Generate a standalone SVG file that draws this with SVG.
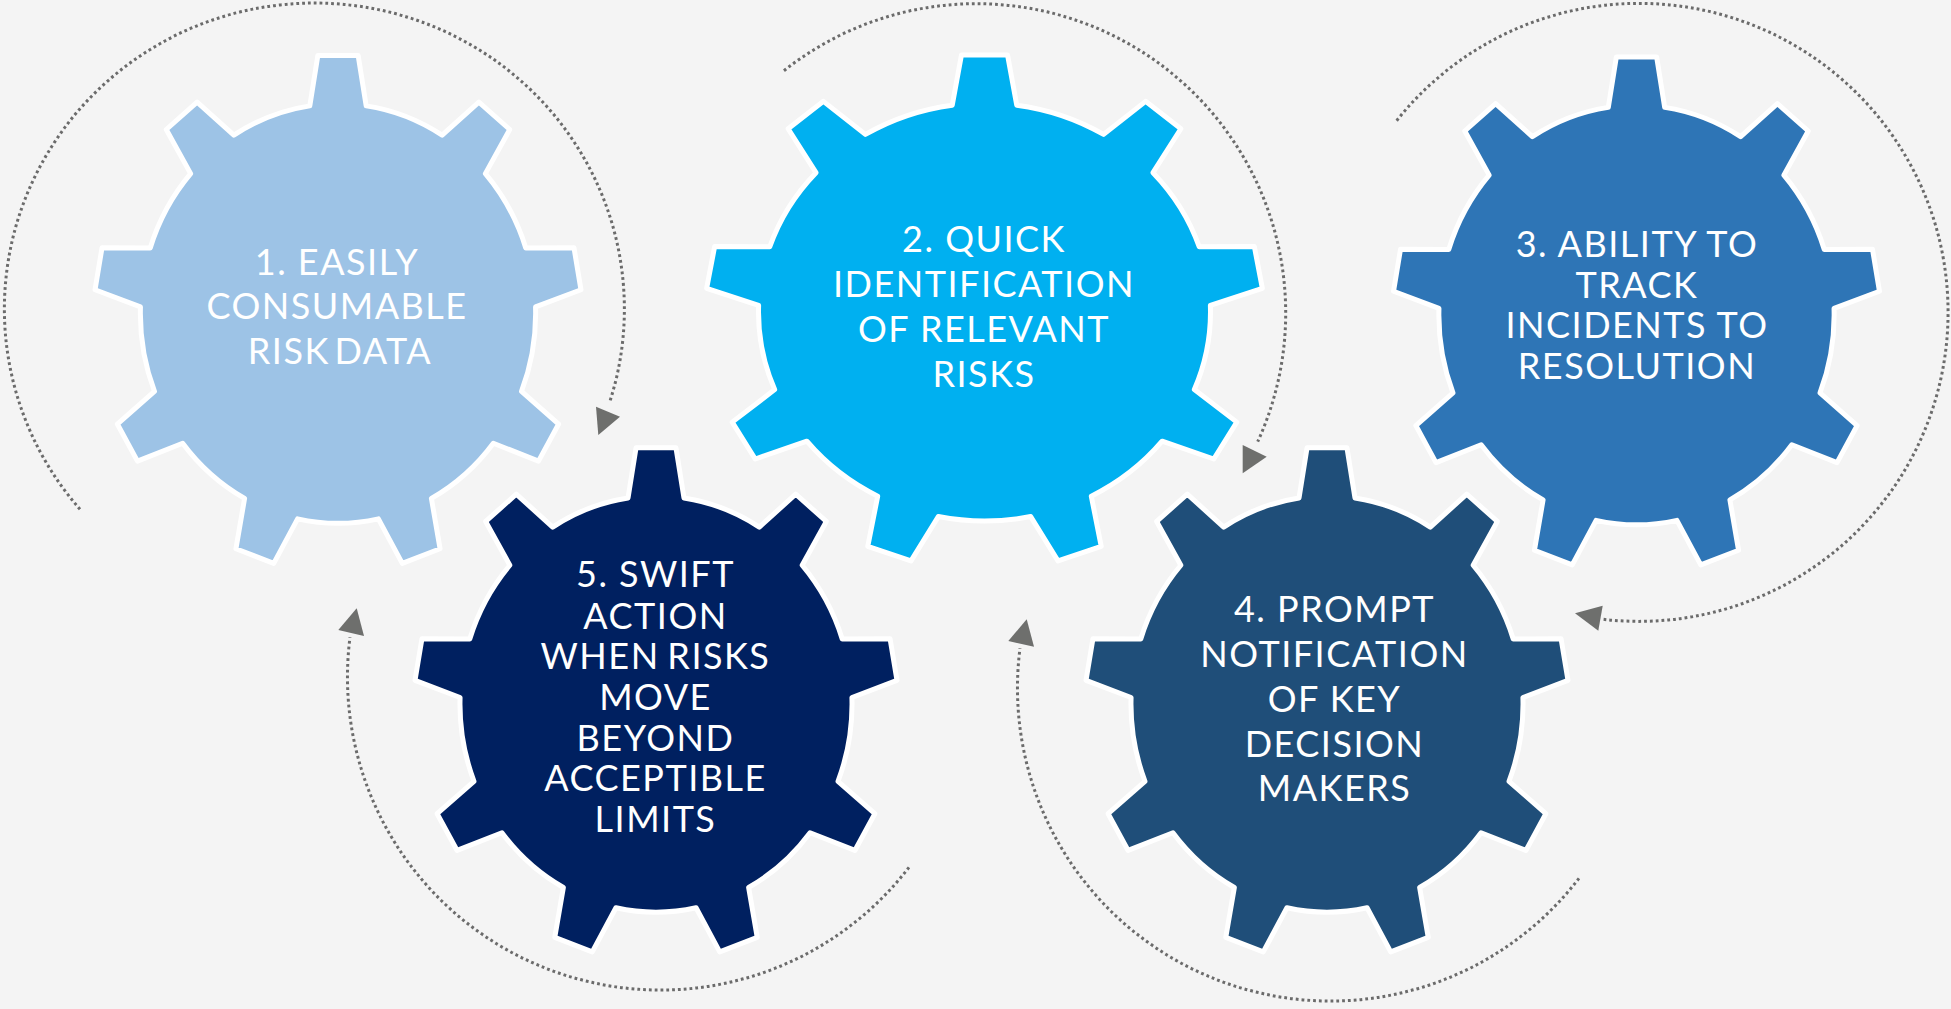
<svg xmlns="http://www.w3.org/2000/svg" width="1951" height="1009" viewBox="0 0 1951 1009">
<style>
.gear{stroke:#FFFFFF;stroke-width:5;stroke-linejoin:round;vector-effect:non-scaling-stroke}
.lbl{font-family:Lato,"Noto Sans","Liberation Sans",sans-serif;font-size:36px;fill:#FFFFFF;text-anchor:middle;letter-spacing:1.5px}
.dot{fill:none;stroke:#6B6B6B;stroke-width:3;stroke-dasharray:2.8 3}
.head{fill:#6E6F6D}
</style>
<rect x="0" y="0" width="1951" height="1009" fill="#F4F4F4"/>
<g id="connectors">
<path class="dot" d="M 80 509.3 A 310 306 0 1 1 609.3 403.3"/>
<polygon class="head" points="596,406.7 620,416.7 598.3,435"/>
<path class="dot" d="M 784 70.7 A 309.4 309.4 0 0 1 1257.7 441.7"/>
<polygon class="head" points="1242.7,445 1266.7,456.7 1242.7,473.3"/>
<path class="dot" d="M 1396.7 120.7 A 309 309 0 1 1 1603.3 619.3"/>
<polygon class="head" points="1575,613.3 1602.7,605.7 1598.3,630.7"/>
<path class="dot" d="M 1579 878.3 A 313 313 0 0 1 1020 648.3"/>
<polygon class="head" points="1026.7,619.3 1008.3,641 1034,646.7"/>
<path class="dot" d="M 909 867.3 A 313 313 0 0 1 350 637.3"/>
<polygon class="head" points="356.7,608.3 338.3,630 364,636"/>
</g>
<g id="gear1">
<path class="gear" fill="#9DC3E6" transform="translate(338 313.5) scale(244 259)" d="M -0.1155 -0.8017 L -0.0825 -0.9966 L 0.0825 -0.9966 L 0.1155 -0.8017 A 0.81 0.81 0 0 1 0.4269 -0.6884 L 0.5774 -0.8165 L 0.7038 -0.7104 L 0.6039 -0.5399 A 0.81 0.81 0 0 1 0.7695 -0.2530 L 0.9671 -0.2543 L 0.9958 -0.0918 L 0.8096 -0.0254 A 0.81 0.81 0 0 1 0.7521 0.3008 L 0.9043 0.4269 L 0.8218 0.5698 L 0.6366 0.5009 A 0.81 0.81 0 0 1 0.3828 0.7139 L 0.4183 0.9083 L 0.2634 0.9647 L 0.1656 0.7929 A 0.81 0.81 0 0 1 -0.1656 0.7929 L -0.2634 0.9647 L -0.4183 0.9083 L -0.3828 0.7139 A 0.81 0.81 0 0 1 -0.6366 0.5009 L -0.8218 0.5698 L -0.9043 0.4269 L -0.7521 0.3008 A 0.81 0.81 0 0 1 -0.8096 -0.0254 L -0.9958 -0.0918 L -0.9671 -0.2543 L -0.7695 -0.2530 A 0.81 0.81 0 0 1 -0.6039 -0.5399 L -0.7038 -0.7104 L -0.5774 -0.8165 L -0.4269 -0.6884 A 0.81 0.81 0 0 1 -0.1155 -0.8017 Z"/>
<text class="lbl"><tspan x="337" y="275">1. EASILY</tspan><tspan x="337" y="319">CONSUMABLE</tspan><tspan x="340" y="364" word-spacing="-6">RISK DATA</tspan></text>
</g>
<g id="gear2">
<path class="gear" fill="#00B0F0" transform="translate(984.5 312) scale(279 258)" d="M -0.1155 -0.8017 L -0.0825 -0.9966 L 0.0825 -0.9966 L 0.1155 -0.8017 A 0.81 0.81 0 0 1 0.4269 -0.6884 L 0.5774 -0.8165 L 0.7038 -0.7104 L 0.6039 -0.5399 A 0.81 0.81 0 0 1 0.7695 -0.2530 L 0.9671 -0.2543 L 0.9958 -0.0918 L 0.8096 -0.0254 A 0.81 0.81 0 0 1 0.7521 0.3008 L 0.9043 0.4269 L 0.8218 0.5698 L 0.6366 0.5009 A 0.81 0.81 0 0 1 0.3828 0.7139 L 0.4183 0.9083 L 0.2634 0.9647 L 0.1656 0.7929 A 0.81 0.81 0 0 1 -0.1656 0.7929 L -0.2634 0.9647 L -0.4183 0.9083 L -0.3828 0.7139 A 0.81 0.81 0 0 1 -0.6366 0.5009 L -0.8218 0.5698 L -0.9043 0.4269 L -0.7521 0.3008 A 0.81 0.81 0 0 1 -0.8096 -0.0254 L -0.9958 -0.0918 L -0.9671 -0.2543 L -0.7695 -0.2530 A 0.81 0.81 0 0 1 -0.6039 -0.5399 L -0.7038 -0.7104 L -0.5774 -0.8165 L -0.4269 -0.6884 A 0.81 0.81 0 0 1 -0.1155 -0.8017 Z"/>
<text class="lbl"><tspan x="984" y="252">2. QUICK</tspan><tspan x="984" y="297">IDENTIFICATION</tspan><tspan x="984" y="342">OF RELEVANT</tspan><tspan x="984" y="386.5">RISKS</tspan></text>
</g>
<g id="gear3">
<path class="gear" fill="#2E75B6" transform="translate(1636.5 315) scale(244 259)" d="M -0.1155 -0.8017 L -0.0825 -0.9966 L 0.0825 -0.9966 L 0.1155 -0.8017 A 0.81 0.81 0 0 1 0.4269 -0.6884 L 0.5774 -0.8165 L 0.7038 -0.7104 L 0.6039 -0.5399 A 0.81 0.81 0 0 1 0.7695 -0.2530 L 0.9671 -0.2543 L 0.9958 -0.0918 L 0.8096 -0.0254 A 0.81 0.81 0 0 1 0.7521 0.3008 L 0.9043 0.4269 L 0.8218 0.5698 L 0.6366 0.5009 A 0.81 0.81 0 0 1 0.3828 0.7139 L 0.4183 0.9083 L 0.2634 0.9647 L 0.1656 0.7929 A 0.81 0.81 0 0 1 -0.1656 0.7929 L -0.2634 0.9647 L -0.4183 0.9083 L -0.3828 0.7139 A 0.81 0.81 0 0 1 -0.6366 0.5009 L -0.8218 0.5698 L -0.9043 0.4269 L -0.7521 0.3008 A 0.81 0.81 0 0 1 -0.8096 -0.0254 L -0.9958 -0.0918 L -0.9671 -0.2543 L -0.7695 -0.2530 A 0.81 0.81 0 0 1 -0.6039 -0.5399 L -0.7038 -0.7104 L -0.5774 -0.8165 L -0.4269 -0.6884 A 0.81 0.81 0 0 1 -0.1155 -0.8017 Z"/>
<text class="lbl"><tspan x="1637" y="257">3. ABILITY TO</tspan><tspan x="1637" y="297.5">TRACK</tspan><tspan x="1637" y="338">INCIDENTS TO</tspan><tspan x="1637" y="378.5">RESOLUTION</tspan></text>
</g>
<g id="gear4">
<path class="gear" fill="#1F4E79" transform="translate(1327 704) scale(242 257)" d="M -0.1155 -0.8017 L -0.0825 -0.9966 L 0.0825 -0.9966 L 0.1155 -0.8017 A 0.81 0.81 0 0 1 0.4269 -0.6884 L 0.5774 -0.8165 L 0.7038 -0.7104 L 0.6039 -0.5399 A 0.81 0.81 0 0 1 0.7695 -0.2530 L 0.9671 -0.2543 L 0.9958 -0.0918 L 0.8096 -0.0254 A 0.81 0.81 0 0 1 0.7521 0.3008 L 0.9043 0.4269 L 0.8218 0.5698 L 0.6366 0.5009 A 0.81 0.81 0 0 1 0.3828 0.7139 L 0.4183 0.9083 L 0.2634 0.9647 L 0.1656 0.7929 A 0.81 0.81 0 0 1 -0.1656 0.7929 L -0.2634 0.9647 L -0.4183 0.9083 L -0.3828 0.7139 A 0.81 0.81 0 0 1 -0.6366 0.5009 L -0.8218 0.5698 L -0.9043 0.4269 L -0.7521 0.3008 A 0.81 0.81 0 0 1 -0.8096 -0.0254 L -0.9958 -0.0918 L -0.9671 -0.2543 L -0.7695 -0.2530 A 0.81 0.81 0 0 1 -0.6039 -0.5399 L -0.7038 -0.7104 L -0.5774 -0.8165 L -0.4269 -0.6884 A 0.81 0.81 0 0 1 -0.1155 -0.8017 Z"/>
<text class="lbl"><tspan x="1334.5" y="622">4. PROMPT</tspan><tspan x="1334.5" y="667">NOTIFICATION</tspan><tspan x="1334.5" y="712">OF KEY</tspan><tspan x="1334.5" y="756.5">DECISION</tspan><tspan x="1334.5" y="801">MAKERS</tspan></text>
</g>
<g id="gear5">
<path class="gear" fill="#002060" transform="translate(656 704) scale(242 257)" d="M -0.1155 -0.8017 L -0.0825 -0.9966 L 0.0825 -0.9966 L 0.1155 -0.8017 A 0.81 0.81 0 0 1 0.4269 -0.6884 L 0.5774 -0.8165 L 0.7038 -0.7104 L 0.6039 -0.5399 A 0.81 0.81 0 0 1 0.7695 -0.2530 L 0.9671 -0.2543 L 0.9958 -0.0918 L 0.8096 -0.0254 A 0.81 0.81 0 0 1 0.7521 0.3008 L 0.9043 0.4269 L 0.8218 0.5698 L 0.6366 0.5009 A 0.81 0.81 0 0 1 0.3828 0.7139 L 0.4183 0.9083 L 0.2634 0.9647 L 0.1656 0.7929 A 0.81 0.81 0 0 1 -0.1656 0.7929 L -0.2634 0.9647 L -0.4183 0.9083 L -0.3828 0.7139 A 0.81 0.81 0 0 1 -0.6366 0.5009 L -0.8218 0.5698 L -0.9043 0.4269 L -0.7521 0.3008 A 0.81 0.81 0 0 1 -0.8096 -0.0254 L -0.9958 -0.0918 L -0.9671 -0.2543 L -0.7695 -0.2530 A 0.81 0.81 0 0 1 -0.6039 -0.5399 L -0.7038 -0.7104 L -0.5774 -0.8165 L -0.4269 -0.6884 A 0.81 0.81 0 0 1 -0.1155 -0.8017 Z"/>
<text class="lbl"><tspan x="655.5" y="587">5. SWIFT</tspan><tspan x="655.5" y="628.5">ACTION</tspan><tspan x="655.5" y="669" word-spacing="-3">WHEN RISKS</tspan><tspan x="655.5" y="709.5">MOVE</tspan><tspan x="655.5" y="750.5">BEYOND</tspan><tspan x="655.5" y="791">ACCEPTIBLE</tspan><tspan x="655.5" y="831.5">LIMITS</tspan></text>
</g>
</svg>
